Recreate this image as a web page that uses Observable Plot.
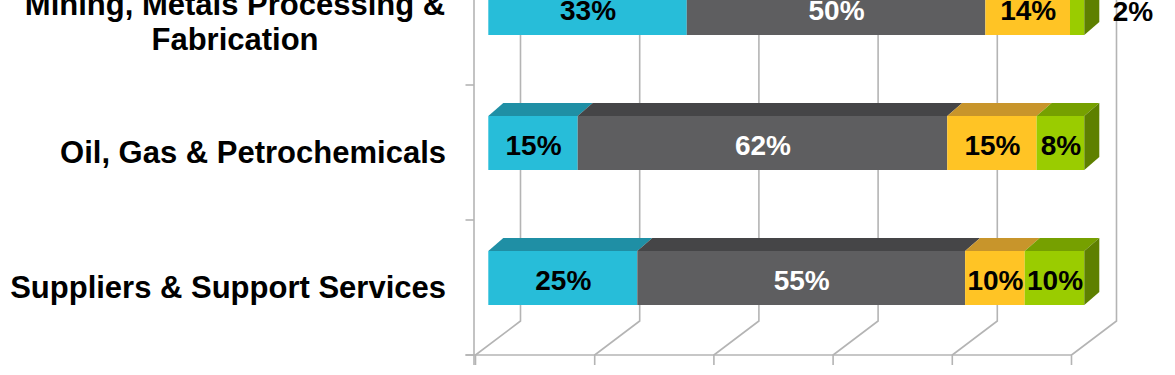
<!DOCTYPE html>
<html>
<head>
<meta charset="utf-8">
<script src="https://cdn.jsdelivr.net/npm/d3@7"></script>
<script src="https://cdn.jsdelivr.net/npm/@observablehq/plot@0.6"></script>
<style>
  html, body { margin: 0; padding: 0; background: #ffffff; }
  svg { display: block; }
</style>
</head>
<body>
<div id="chart"></div>
<script>
// ---- data ----
const categories = [
  "Mining, Metals Processing & Fabrication",
  "Oil, Gas & Petrochemicals",
  "Suppliers & Support Services"
];
const categoryLabels = [
  "Mining, Metals Processing &\nFabrication",
  "Oil, Gas & Petrochemicals",
  "Suppliers & Support Services"
];
const seriesNames = ["Segment 1", "Segment 2", "Segment 3", "Segment 4"];
const miningValues    = [33.3, 50.1, 14.2, 2.4];
const oilGasValues    = [15, 62, 15, 8];
const suppliersValues = [25, 55, 10, 10];
const xTicks = [0, 20, 40, 60, 80, 100];

// ---- styles ----
const frontColors = ["#27BDD9", "#5E5E60", "#FFC425", "#9ACC00"];
const topColors   = ["#1F8FA5", "#454547", "#C8952B", "#76A000"];
const sideColor   = "#5E8000";
const labelColors = ["#000000", "#ffffff", "#000000", "#000000"];
const gridColor = "#B4B4B4";
const BAR_DX = 12.8, BAR_DY = -9.5, BAR_H = 54;   // bar plane offset inside depth
const DEPTH_X = 15, DEPTH_Y = -13;               // bar depth
const WALL_X = 45, WALL_Y = -34;                 // chart depth (back wall)

// ---- table ----
const valueRows = [miningValues, oilGasValues, suppliersValues];
const table = [];
categories.forEach((cat, ci) => {
  let acc = 0;
  valueRows[ci].forEach((v, si) => {
    table.push({category: cat, series: seriesNames[si], si, value: v, x1: acc, x2: acc + v,
                last: si === valueRows[ci].length - 1});
    acc += v;
  });
});
const labelsTable = categories.map((c, i) => ({category: c, label: categoryLabels[i]}));

// ---- custom 3D marks using Plot's scales ----
function gridMark(index, scales) {
  const x = scales.x, y = scales.y;
  const bw = y.bandwidth();
  const yFloor = y(categories[categories.length - 1]) + bw;
  const yTop = y(categories[0]) - 10;
  const g = d3.create("svg:g").attr("fill", "none").attr("stroke", gridColor).attr("stroke-width", 1.6);
  for (const t of xTicks) {
    const xf = x(t), xb = x(t) + WALL_X;
    g.append("path").attr("d", `M${xb},${yTop}L${xb},${yFloor + WALL_Y}L${xf},${yFloor}L${xf},${yFloor + 10}`);
  }
  // floor front edge
  g.append("path").attr("d", `M${x(0) - 10},${yFloor}L${x(100)},${yFloor}`);
  // left axis and category ticks
  g.append("path").attr("d", `M${x(0) - 1.5},${yTop}L${x(0) - 1.5},${yFloor + 10}`);
  for (let i = 1; i <= categories.length; i++) {
    const yy = i < categories.length ? y(categories[i]) : yFloor;
    g.append("path").attr("d", `M${x(0) - 10},${yy}L${x(0) - 1.5},${yy}`);
  }
  return g.node();
}

function barsMark(index, scales) {
  const x = scales.x, y = scales.y;
  const bw = y.bandwidth();
  const g = d3.create("svg:g");
  for (const cat of categories) {
    const rows = table.filter(d => d.category === cat);
    const yc = y(cat) + bw / 2;
    const yt = yc + BAR_DY - BAR_H / 2, yb = yc + BAR_DY + BAR_H / 2;
    for (const d of rows) {
      const a = x(d.x1) + BAR_DX, b = x(d.x2) + BAR_DX;
      // top face
      g.append("path")
        .attr("d", `M${a},${yt}L${b},${yt}L${b + DEPTH_X},${yt + DEPTH_Y}L${a + DEPTH_X},${yt + DEPTH_Y}Z`)
        .attr("fill", topColors[d.si]);
      // front face
      g.append("rect").attr("x", a).attr("y", yt).attr("width", b - a).attr("height", yb - yt)
        .attr("fill", frontColors[d.si]);
      if (d.last) {
        g.append("path")
          .attr("d", `M${b},${yt}L${b + DEPTH_X},${yt + DEPTH_Y}L${b + DEPTH_X},${yb + DEPTH_Y}L${b},${yb}Z`)
          .attr("fill", sideColor);
      }
    }
  }
  return g.node();
}

const inside = table.filter(d => d.value >= 5);
const outside = table.filter(d => d.value < 5);
const fmt = d => `${Math.round(d.value)}%`;
const fontFamily = "'Liberation Sans', Arial, sans-serif";

const chart = Plot.plot({
  width: 1175,
  height: 375,
  margin: 0,
  style: {background: "#ffffff", fontFamily, overflow: "hidden"},
  x: {domain: [0, 100], range: [475.5, 1071.5], axis: null},
  y: {type: "band", domain: categories, range: [-50.3, 356], padding: 0, axis: null},
  marks: [
    gridMark,
    barsMark,
    Plot.text(inside, {
      x: d => (d.x1 + d.x2) / 2, y: "category", text: fmt,
      dx: BAR_DX, dy: BAR_DY + 2.5,
      fill: d => labelColors[d.si], fontSize: 28, fontWeight: "bold", fontFamily
    }),
    Plot.text(outside, {
      x: "x2", y: "category", text: fmt,
      dx: BAR_DX + 28, dy: BAR_DY + 4, textAnchor: "start",
      fill: "#000000", fontSize: 28, fontWeight: "bold", fontFamily
    }),
    Plot.text(labelsTable.filter(d => !d.label.includes("\n")), {
      x: 0, y: "category", text: "label", dx: -30, textAnchor: "end",
      fill: "#000000", fontSize: 31, fontWeight: "bold", fontFamily
    }),
    Plot.text(labelsTable.filter(d => d.label.includes("\n")), {
      x: 0, y: "category", text: "label", dx: -241, dy: 3, textAnchor: "middle", lineHeight: 1.13,
      fill: "#000000", fontSize: 31, fontWeight: "bold", fontFamily
    })
  ]
});
document.getElementById("chart").appendChild(chart);
</script>
</body>
</html>
